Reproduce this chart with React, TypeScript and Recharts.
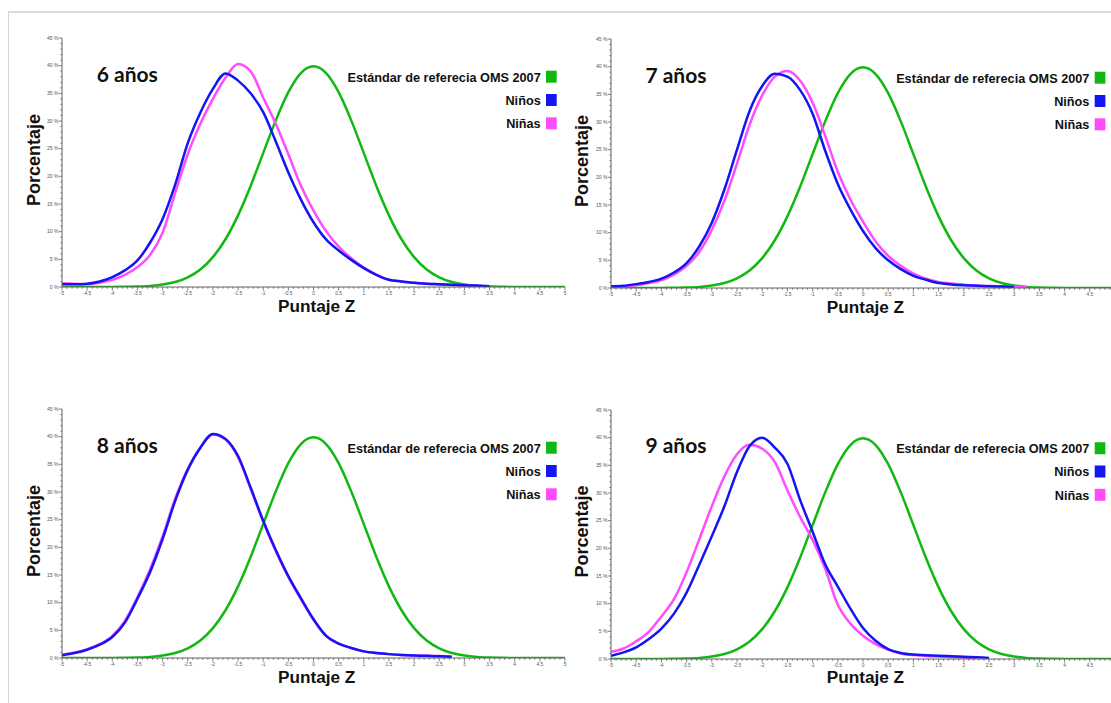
import { LineChart, Line, XAxis, YAxis } from 'recharts'

// Puntaje Z (eje X), cada 0.25
const zScores = [
  -5, -4.75, -4.5, -4.25, -4, -3.75, -3.5, -3.25, -3, -2.75, -2.5, -2.25, -2, -1.75, -1.5, -1.25, -1, -0.75, -0.5, -0.25,
  0, 0.25, 0.5, 0.75, 1, 1.25, 1.5, 1.75, 2, 2.25, 2.5, 2.75, 3, 3.25, 3.5, 3.75, 4, 4.25, 4.5, 4.75, 5,
]

// Estándar de referencia OMS 2007 (%)
const omsRef = [
  0, 0, 0, 0.01, 0.01, 0.04, 0.09, 0.2, 0.44, 0.91, 1.75, 3.17, 5.4, 8.63, 12.95, 18.26, 24.2, 30.11, 35.21, 38.67,
  39.89, 38.67, 35.21, 30.11, 24.2, 18.26, 12.95, 8.63, 5.4, 3.17, 1.75, 0.91, 0.44, 0.2, 0.09, 0.04, 0.01, 0.01, 0, 0, 0,
]

// 6 años
const ninos6 = [
  0.5, 0.5, 0.6, 1.0, 1.8, 3.0, 4.8, 8.0, 12.3, 18.5, 26.0, 31.5, 35.8, 38.6, 37.3, 35.0, 31.6, 26.3, 20.7, 15.8,
  11.7, 8.6, 6.6, 4.9, 3.4, 2.2, 1.3, 1.0, 0.75, 0.6, 0.5, 0.4, 0.3, 0.25, 0.15,
]
const ninas6 = [
  0.7, 0.6, 0.5, 0.8, 1.3, 2.2, 3.6, 5.8, 9.8, 17.0, 24.0, 29.5, 34.0, 37.8, 40.3, 39.0, 34.2, 29.5, 24.0, 18.3,
  13.8, 10.1, 7.3, 5.2, 3.5, 2.2, 1.3, 1.0, 0.75, 0.6, 0.45, 0.35, 0.3, 0.25,
]

// 7 años
const ninos7 = [
  0.3, 0.4, 0.7, 1.1, 1.7, 2.8, 4.5, 7.5, 11.8, 17.8, 25.0, 32.0, 36.5, 38.7, 38.2, 35.8, 31.5, 24.8, 18.8, 14.2,
  10.3, 7.2, 5.0, 3.4, 2.2, 1.5, 0.9, 0.65, 0.5, 0.4, 0.3, 0.25, 0.2,
]
const ninas7 = [
  0.2, 0.3, 0.5, 0.9, 1.4, 2.4, 4.0, 6.5, 10.5, 15.8, 22.5, 29.5, 34.8, 38.2, 39.2, 37.5, 33.5, 27.5, 21.0, 16.0,
  12.0, 8.4, 5.8, 4.0, 2.6, 1.7, 1.1, 0.8, 0.6, 0.45, 0.35, 0.3, 0.25, 0.2,
]

// 8 años
const ninos8 = [
  0.5, 0.9, 1.5, 2.4, 3.8, 6.4, 10.7, 15.5, 21.5, 28.4, 34.0, 38.0, 40.5, 39.6, 36.5, 30.8, 24.8, 19.5, 14.8, 10.8,
  7.0, 4.0, 2.6, 1.8, 1.2, 0.9, 0.7, 0.55, 0.45, 0.4, 0.3, 0.2,
]
const ninas8 = [
  0.6, 1.0, 1.6, 2.5, 4.0, 6.7, 11.0, 16.0, 22.0, 28.8, 34.2, 38.0, 40.4, 39.5, 36.3, 30.6, 24.6, 19.3, 14.6, 10.6,
  6.9, 4.0, 2.6, 1.8, 1.2, 0.9, 0.7, 0.55, 0.45, 0.4, 0.35, 0.3,
]

// 9 años
const ninos9 = [
  0.6, 1.2, 2.1, 3.6, 5.5, 8.2, 12.0, 17.0, 22.2, 27.6, 33.8, 38.5, 40.0, 38.2, 35.3, 28.8, 23.0, 17.1, 13.1, 9.1,
  5.6, 3.3, 1.8, 1.1, 0.8, 0.7, 0.6, 0.5, 0.4, 0.3, 0.2,
]
const ninas9 = [
  1.3, 1.9, 3.2, 4.9, 7.7, 10.8, 15.7, 21.6, 27.6, 33.0, 37.0, 38.7, 38.0, 35.6, 30.5, 25.7, 21.5, 16.3, 9.8, 6.4,
  4.2, 2.7, 1.7, 1.0, 0.7, 0.55, 0.45, 0.35, 0.25, 0.15,
]

const xMajorTicks = [-5, -4.5, -4, -3.5, -3, -2.5, -2, -1.5, -1, -0.5, 0, 0.5, 1, 1.5, 2, 2.5, 3, 3.5, 4, 4.5, 5]
const yMajorTicks = [0, 5, 10, 15, 20, 25, 30, 35, 40, 45]
const legendLabels = ['Estándar de referecia OMS 2007', 'Niños', 'Niñas']

// minor tick positions (decoration only)
const xMinorTicks = Array.from({ length: 101 }, (_, i) => Math.round((-5 + i * 0.1) * 10) / 10)
const yMinorTicks = Array.from({ length: 46 }, (_, i) => i)

const GREEN = '#12b812'
const BLUE = '#1414f4'
const PINK = '#ff4cff'
const AXIS = '#606060'
const LEGEND_COLORS = [GREEN, BLUE, PINK]

const PH = 249
const YW = 30
const XH = 14
const MT = 5
const MR = 5

const isMajorX = (v: number) => xMajorTicks.some((t) => Math.abs(t - v) < 1e-6)
const isMajorY = (v: number) => yMajorTicks.includes(v)

// right-hand panels are cut by the picture edge, so their last label is not shown
const makeBottomTick = (maxLabel: number) =>
  function BottomTick({ x, y, payload }: any) {
    const major = isMajorX(payload.value)
    return (
      <g>
        <line x1={x} x2={x} y1={y} y2={y + (major ? 3.5 : 1.8)} stroke={AXIS} strokeWidth={0.8} />
        {major && payload.value <= maxLabel && (
          <text x={x} y={y + 8.2} textAnchor="middle" fontSize={4.8} fill="#555" fontFamily="'Liberation Sans', Arial">
            {String(payload.value)}
          </text>
        )}
      </g>
    )
  }

function TopTick({ x, y, payload }: any) {
  const major = isMajorX(payload.value)
  return <line x1={x} x2={x} y1={y} y2={y + (major ? 3 : 1.5)} stroke={AXIS} strokeWidth={0.8} />
}

function LeftTick({ x, y, payload }: any) {
  const major = isMajorY(payload.value)
  return (
    <g>
      <line x1={x} x2={x - (major ? 3 : 1.6)} y1={y} y2={y} stroke={AXIS} strokeWidth={0.8} />
      {major && (
        <text x={x - 3.5} y={y + 1.7} textAnchor="end" fontSize={5.1} fill="#555" fontFamily="'Liberation Sans', Arial">
          {`${payload.value} %`}
        </text>
      )}
    </g>
  )
}

function RightTick({ x, y, payload }: any) {
  const major = isMajorY(payload.value)
  return <line x1={x} x2={x - (major ? 3 : 1.5)} y1={y} y2={y} stroke={AXIS} strokeWidth={0.8} />
}

function buildRows(ninos: number[], ninas: number[]) {
  return zScores.map((z, i) => ({
    z,
    oms: omsRef[i],
    ninos: ninos[i] ?? null,
    ninas: ninas[i] ?? null,
  }))
}

const panels = [
  { title: '6 años', left: 62, top: 38, width: 503, maxLabel: 5, ninos: ninos6, ninas: ninas6 },
  { title: '7 años', left: 610.7, top: 39, width: 504, maxLabel: 4.5, ninos: ninos7, ninas: ninas7 },
  { title: '8 años', left: 62, top: 409, width: 503, maxLabel: 5, ninos: ninos8, ninas: ninas8 },
  { title: '9 años', left: 610.7, top: 409.5, width: 504, maxLabel: 4.5, ninos: ninos9, ninas: ninas9 },
]

function Panel({ left, top, width, maxLabel, ninos, ninas }: any) {
  const rows = buildRows(ninos, ninas)
  const axisCommon = { type: 'number' as const, tickSize: 0, tickMargin: 0, tickLine: false, stroke: AXIS, interval: 0 as const, allowDataOverflow: true }
  return (
    <div style={{ position: 'absolute', left: left - YW, top: top - MT }}>
      <LineChart width={YW + width + MR} height={MT + PH + XH} data={rows} margin={{ top: MT, right: MR, bottom: 0, left: 0 }}>
        <XAxis xAxisId="b" dataKey="z" domain={[-5, 5]} ticks={xMinorTicks} height={XH} tick={makeBottomTick(maxLabel)} {...axisCommon} />
        <XAxis xAxisId="t" orientation="top" dataKey="z" domain={[-5, 5]} ticks={xMinorTicks} height={0} tick={TopTick} {...axisCommon} />
        <YAxis yAxisId="l" domain={[0, 45]} ticks={yMinorTicks} width={YW} tick={LeftTick} {...axisCommon} />
        <YAxis yAxisId="r" orientation="right" domain={[0, 45]} ticks={yMinorTicks} width={0} tick={RightTick} {...axisCommon} />
        <Line xAxisId="b" yAxisId="l" type="monotone" dataKey="oms" stroke={GREEN} strokeWidth={2.5} dot={false} isAnimationActive={false} />
        <Line xAxisId="b" yAxisId="l" type="monotone" dataKey="ninas" stroke={PINK} strokeWidth={2.5} dot={false} isAnimationActive={false} />
        <Line xAxisId="b" yAxisId="l" type="monotone" dataKey="ninos" stroke={BLUE} strokeWidth={2.5} dot={false} isAnimationActive={false} />
      </LineChart>
    </div>
  )
}

function PanelLabels({ title, left, top }: any) {
  const legendY = [38.7, 62, 85.3]
  return (
    <g>
      <text x={left + 34.7} y={top + 43.7} fontSize={21} fontWeight={700} fontFamily="Lato, 'Open Sans', sans-serif" fill="#111">
        {title}
      </text>
      {legendLabels.map((lab, i) => (
        <g key={lab}>
          <text x={left + 478.7} y={top + legendY[i] + 4.8} textAnchor="end" fontSize={12.7} fontWeight={700} fontFamily="'Liberation Sans', Arial" fill="#111">
            {lab}
          </text>
          <rect x={left + 484} y={top + legendY[i] - 6} width={10.7} height={12} fill={LEGEND_COLORS[i]} />
        </g>
      ))}
      <text x={left + 254.7} y={top + PH + 24.7} textAnchor="middle" fontSize={17.2} fontWeight={700} fontFamily="'Liberation Sans', Arial" fill="#111">
        Puntaje Z
      </text>
      <text transform={`translate(${left - 22.5},${top + 122}) rotate(-90)`} textAnchor="middle" fontSize={18} fontWeight={700} fontFamily="'Liberation Sans', Arial" fill="#111">
        Porcentaje
      </text>
    </g>
  )
}

export default function App() {
  return (
    <div style={{ position: 'fixed', left: 0, top: 0, width: 1111, height: 703, overflow: 'hidden', background: '#fff' }}>
      <div style={{ position: 'absolute', left: 8, top: 11, width: 2000, height: 2000, borderTop: '2px solid #dcdcdc', borderLeft: '1.5px solid #d4d4d4' }} />
      {panels.map((p) => (
        <Panel key={p.title} {...p} />
      ))}
      <svg width={1111} height={703} style={{ position: 'absolute', left: 0, top: 0, pointerEvents: 'none' }}>
        {panels.map((p) => (
          <PanelLabels key={p.title} {...p} />
        ))}
      </svg>
    </div>
  )
}
